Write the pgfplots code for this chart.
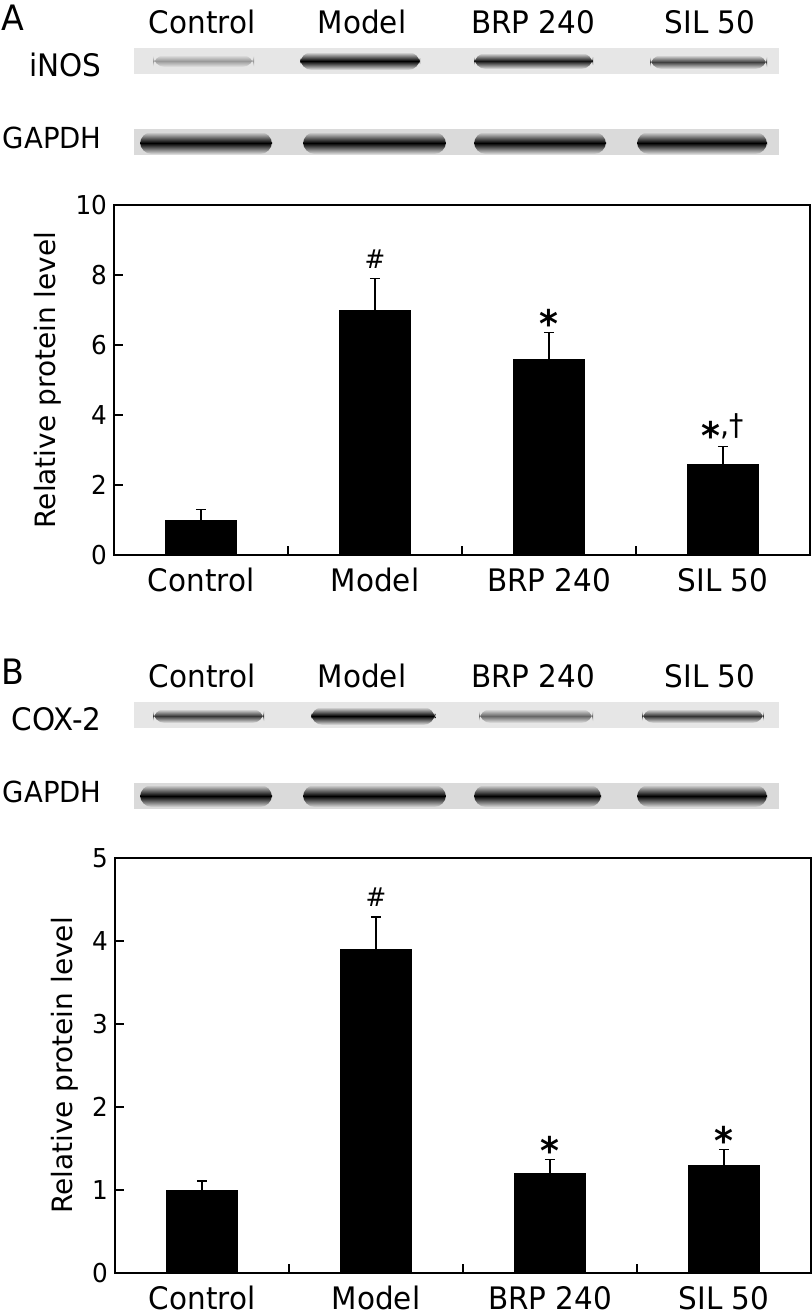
\documentclass[border=0pt]{standalone}
\usepackage{pgfplots}
\pgfplotsset{compat=1.18}
\usepackage{fontspec}
\setmainfont{DejaVu Sans}
\newfontfamily\cond[FakeStretch=0.95]{DejaVu Sans}
\definecolor{blotbg}{RGB}{230,230,230}
\definecolor{blotbgg}{RGB}{218,218,218}

% one band of a blot: x from, x to, y centre, half height, colour, background (pixel units)
\newcommand\band[6]{%
  \shade[top color=#6, bottom color=#6, middle color=#5, rounded corners=6]
    (#1,#3-#4) rectangle (#2,#3+#4);}
\newcommand\sigast{\raisebox{-7pt}{\fontsize{19}{19}\selectfont\bfseries *}}

\pgfplotsset{
  protbar/.style={
    scale only axis, width=348pt, anchor=south west,
    xmin=-0.5, xmax=3.5, ymin=0,
    ybar, bar width=35.5pt,
    axis line style={line width=1.1pt},
    tick align=inside, xtick pos=left, ytick pos=left,
    major tick length=4.5pt, tick style={line width=0.9pt, black},
    xtick={0.5,1.5,2.5}, xticklabels={},
    extra x ticks={0,1,2,3},
    extra x tick labels={Control,Model,BRP 240,SIL 50},
    extra x tick style={major tick length=0pt},
    x tick label style={font=\cond\fontsize{15.5}{15.5}\selectfont, yshift=-3pt},
    y tick label style={font=\cond\fontsize{13}{13}\selectfont},
    /pgf/number format/assume math mode=true,
    ylabel={Relative protein level},
    ylabel style={font=\fontsize{14}{14}\selectfont},
    error bars/y dir=plus, error bars/y explicit,
    error bars/error mark=-,
    error bars/error mark options={rotate=90, mark size=2.6pt, line width=0.8pt, black},
    error bars/error bar style={line width=0.8pt, black},
  },
}
\tikzset{sig/.style={anchor=base, inner sep=0pt, font=\cond\fontsize{15}{15}\selectfont}}

\begin{document}
\begin{tikzpicture}
\useasboundingbox (0,0) rectangle (406pt,-656.5pt);

\begin{scope}[x=0.5pt, y=-0.5pt, every node/.append style={inner sep=0pt, font=\cond\fontsize{15.5}{15.5}\selectfont}]
% ---------------- panel A blots
\node[anchor=base west, font=\cond\fontsize{17.5}{17.5}\selectfont] at (1,30) {A};
\foreach \x/\t in {202/Control, 362/Model, 533/BRP 240, 710/SIL 50}
  \node[anchor=base] at (\x,33) {\t};
\node[anchor=base east] at (102,76) {iNOS};
\node[anchor=base east, font=\cond\fontsize{14.5}{14.5}\selectfont] at (102,148) {GAPDH};
\fill[blotbg] (134,48) rectangle (779,74);
\fill[blotbgg] (134,129) rectangle (779,155);
\band{153}{254}{61}{6}{black!40}{blotbg}
\band{300}{420}{61}{9}{black}{blotbg}
\band{474}{593}{61}{8}{black!92}{blotbg}
\band{650}{767}{62}{7}{black!75}{blotbg}
\band{140}{272}{143}{11}{black}{blotbgg}
\band{303}{446}{143}{11}{black}{blotbgg}
\band{474}{606}{143}{11}{black}{blotbgg}
\band{637}{767}{143}{11}{black}{blotbgg}

% ---------------- panel B blots
\node[anchor=base west, font=\cond\fontsize{17.5}{17.5}\selectfont] at (1,684) {B};
\foreach \x/\t in {202/Control, 362/Model, 533/BRP 240, 710/SIL 50}
  \node[anchor=base] at (\x,687) {\t};
\node[anchor=base east] at (102,730) {COX-2};
\node[anchor=base east, font=\cond\fontsize{14.5}{14.5}\selectfont] at (102,802) {GAPDH};
\fill[blotbg] (134,702) rectangle (779,728);
\fill[blotbgg] (134,783) rectangle (779,809);
\band{153}{264}{716}{7}{black!78}{blotbg}
\band{311}{435}{716}{9}{black}{blotbg}
\band{479}{593}{716}{7}{black!60}{blotbg}
\band{642}{764}{716}{7}{black!80}{blotbg}
\band{140}{272}{796}{11}{black}{blotbgg}
\band{303}{446}{796}{11}{black}{blotbgg}
\band{474}{601}{796}{11}{black}{blotbgg}
\band{637}{767}{796}{11}{black}{blotbgg}
\end{scope}

% ---------------- panel A chart
\begin{axis}[protbar, at={(57pt,-277.5pt)}, height=175pt, ymax=10, ytick={0,2,...,10}]
  \addplot[fill=black, draw=black] coordinates {
    (0,1.0) +- (0,0.30)
    (1,7.0) +- (0,0.90)
    (2,5.6) +- (0,0.76)
    (3,2.6) +- (0,0.50)
  };
  \node[sig, font=\cond\fontsize{13}{13}\selectfont, yshift=5pt] at (axis cs:1,7.90) {\#};
  \node[sig, yshift=4.5pt] at (axis cs:2,6.36) {\sigast};
  \node[sig, yshift=5.5pt] at (axis cs:3,3.10) {\sigast,†};
\end{axis}

% ---------------- panel B chart
\begin{axis}[protbar, at={(57.5pt,-636.5pt)}, height=207.5pt, ymax=5, ytick={0,1,...,5}]
  \addplot[fill=black, draw=black] coordinates {
    (0,1.0) +- (0,0.11)
    (1,3.9) +- (0,0.39)
    (2,1.2) +- (0,0.17)
    (3,1.3) +- (0,0.19)
  };
  \node[sig, font=\cond\fontsize{13}{13}\selectfont, yshift=5pt] at (axis cs:1,4.29) {\#};
  \node[sig, yshift=4.5pt] at (axis cs:2,1.37) {\sigast};
  \node[sig, yshift=4.5pt] at (axis cs:3,1.49) {\sigast};
\end{axis}
\end{tikzpicture}
\end{document}
